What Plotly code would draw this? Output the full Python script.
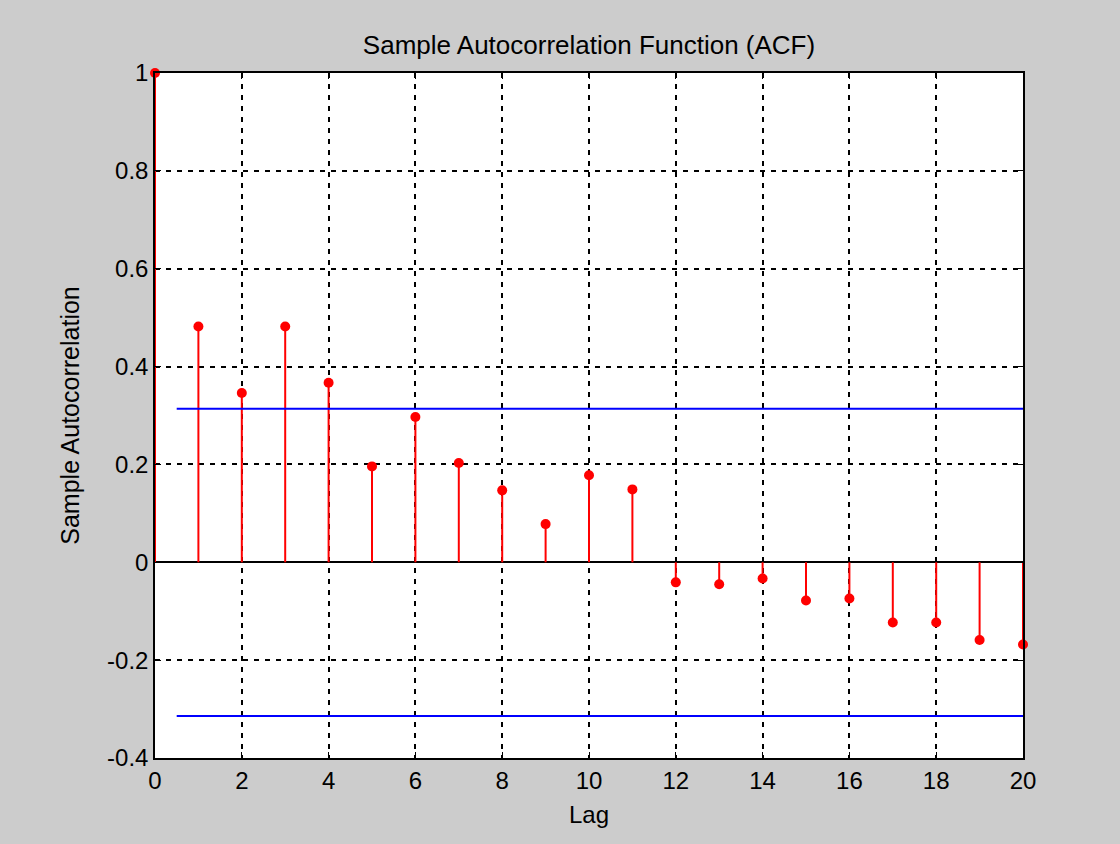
import plotly.graph_objects as go

lags = list(range(0, 21))
acf = [1.0, 0.482, 0.346, 0.482, 0.367, 0.196, 0.297, 0.203, 0.147, 0.078,
       0.178, 0.149, -0.041, -0.045, -0.033, -0.078, -0.074, -0.123, -0.123,
       -0.159, -0.168]
bound = 0.314
bound_x = [0.5, 20]

xticks = list(range(0, 21, 2))
yticks = [-0.4, -0.2, 0, 0.2, 0.4, 0.6, 0.8, 1]
yticklabels = ["-0.4", "-0.2", "0", "0.2", "0.4", "0.6", "0.8", "1"]

stem_x, stem_y = [], []
for k, v in zip(lags, acf):
    stem_x += [k, k, None]
    stem_y += [0, v, None]

fig = go.Figure()
fig.add_trace(go.Scatter(x=stem_x, y=stem_y, mode="lines", cliponaxis=False,
                         line=dict(color="#ff0000", width=2), hoverinfo="skip"))
fig.add_trace(go.Scatter(x=bound_x, y=[bound, bound], mode="lines",
                         line=dict(color="#0000ff", width=2)))
fig.add_trace(go.Scatter(x=bound_x, y=[-bound, -bound], mode="lines",
                         line=dict(color="#0000ff", width=2)))
fig.add_trace(go.Scatter(x=lags, y=acf, mode="markers", cliponaxis=False,
                         marker=dict(color="#ff0000", size=10)))

font = "Liberation Sans, Arial, sans-serif"
fig.update_layout(
    width=1120, height=844,
    paper_bgcolor="#cccccc", plot_bgcolor="#ffffff",
    margin=dict(l=155, r=97, t=73, b=86),
    showlegend=False,
    font=dict(family=font, size=24, color="#000000"),
    title=dict(text="Sample Autocorrelation Function (ACF)", x=0.5, xref="paper",
               xanchor="center", y=1 - 45 / 844, yanchor="middle",
               font=dict(size=26, family=font)),
)
grid = dict(showgrid=True, gridcolor="#000000", griddash="5px,6px", gridwidth=1.5,
            ticks="inside", ticklen=6, tickcolor="#000000", mirror="allticks",
            showline=True, linecolor="#000000", linewidth=1.5, tickfont=dict(size=24))
fig.update_xaxes(range=[0, 20], tickvals=xticks, ticktext=[str(t) for t in xticks],
                 zeroline=False,
                 title=dict(text="Lag", font=dict(size=24), standoff=14), **grid)
fig.update_yaxes(range=[-0.4, 1], tickvals=yticks, ticktext=yticklabels,
                 zeroline=True, zerolinecolor="#000000", zerolinewidth=1.5,
                 title=dict(text="Sample Autocorrelation", font=dict(size=25), standoff=20),
                 **grid)
fig.write_html("out.html", config={"displayModeBar": False},
               post_script="document.body.style.margin='0';document.body.style.background='#cccccc';")
